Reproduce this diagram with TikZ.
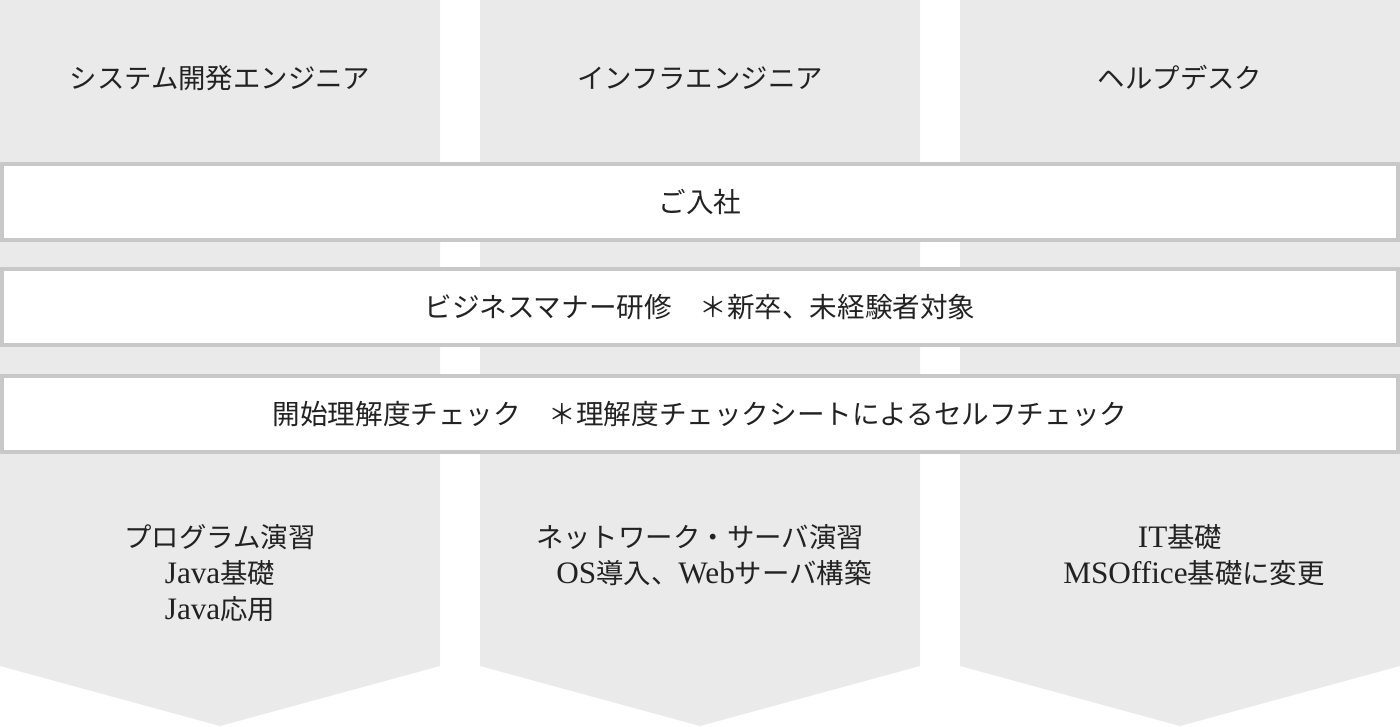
\documentclass[tikz,border=0pt]{standalone}
\usepackage{fontspec}
\setmainfont{Noto Sans CJK JP}
\newfontfamily\latinf[Scale=1.14]{Liberation Serif}
\newcommand{\lat}[1]{{\latinf #1}}
\definecolor{colgray}{HTML}{EAEAEA}
\definecolor{bordergray}{HTML}{C8C8C8}
\definecolor{txt}{HTML}{222222}
\tikzset{
  colshape/.style={fill=colgray, draw=none},
  barbox/.style={draw=bordergray, fill=white, line width=4pt, minimum width=1396pt, minimum height=76pt, inner sep=0pt, text=txt, font=\fontsize{27.6}{32}\selectfont},
  lbl/.style={text=txt, inner sep=0pt, font=\fontsize{27.4}{32}\selectfont},
}
\begin{document}
\begin{tikzpicture}[x=1pt,y=-1pt]
\useasboundingbox (0,0) rectangle (1400,726);
% columns
\fill[colshape] (0,0) -- (440,0) -- (440,666) -- (220,726) -- (0,666) -- cycle;
\fill[colshape] (480,0) -- (920,0) -- (920,666) -- (700,726) -- (480,666) -- cycle;
\fill[colshape] (960,0) -- (1400,0) -- (1400,666) -- (1180,726) -- (960,666) -- cycle;
% titles
\node[lbl] (t1) at (220,78) {システム開発エンジニア};
\node[lbl] (t2) at (700,78) {インフラエンジニア};
\node[lbl] (t3) at (1180,78) {ヘルプデスク};
% bars
\node[barbox] (b1) at (700,202) {ご入社};
\node[barbox] (b2) at (700,307) {ビジネスマナー研修　＊新卒、未経験者対象};
\node[barbox] (b3) at (700,414) {開始理解度チェック　＊理解度チェックシートによるセルフチェック};
% column contents
\node[lbl] (c1a) at (220,537) {プログラム演習};
\node[lbl] (c1b) at (220,573) {\lat{Java}基礎};
\node[lbl] (c1c) at (220,609) {\lat{Java}応用};
\node[lbl] (c2a) at (700,537) {ネットワーク・サーバ演習};
\node[lbl] (c2b) at (714,573) {\lat{OS}導入、\lat{Web}サーバ構築};
\node[lbl] (c3a) at (1180,537) {\lat{IT}基礎};
\node[lbl] (c3b) at (1194,573) {\lat{MSOffice}基礎に変更};
\end{tikzpicture}
\end{document}
